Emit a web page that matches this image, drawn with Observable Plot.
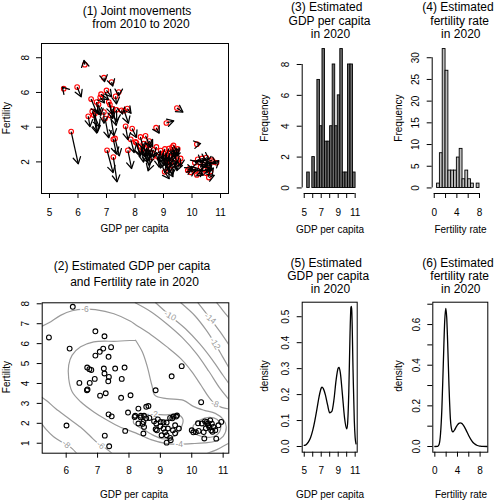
<!DOCTYPE html>
<html><head><meta charset="utf-8">
<script src="https://cdn.jsdelivr.net/npm/d3@7"></script>
<script src="https://cdn.jsdelivr.net/npm/@observablehq/plot@0.6"></script>
<style>
body{margin:0;background:#fff;}
#fig{position:relative;width:494px;height:500px;background:#fff;color:#000;overflow:hidden;font-family:"Liberation Sans",Arial,Helvetica,sans-serif}
</style></head><body><div id="fig"></div>
<script>
// ---------------- DATA ----------------
// Countries: observed 2010 and estimated 2020 (GDP per capita on log scale, fertility rate)
const gdp2010 = [6.24,5.50,5.97,5.76,6.91,7.18,7.43,7.00,6.81,6.46,6.65,7.08,7.32,6.50,6.60,6.36,6.91,7.14,7.35,7.53,7.73,7.67,7.90,7.24,7.02,7.24,7.75,6.78,6.72,7.12,7.62,6.55,6.95,7.22,7.30,7.85,8.05,9.47,9.10,8.74,10.17,10.86,
 8.19,8.37,8.50,8.02,8.30,8.45,8.25,8.40,8.55,8.60,8.75,8.90,9.00,9.05,9.19,9.25,9.35,9.40,9.30,9.45,9.05,9.20,9.35,9.40,9.50,9.10,9.25,9.30,9.55,9.04,9.20,9.60,8.20,8.35,8.80,9.12,9.35,9.50,8.65,9.15,
 9.85,9.95,10.05,10.20,10.17,10.35,10.40,10.50,10.60,10.55,10.65,10.45,10.25,10.59,10.45,10.30,10.10,10.70,10.50,9.90,10.75,10.28];
const fert2010 = [7.60,6.22,6.31,3.75,6.85,6.60,6.02,6.12,5.90,5.62,5.45,5.45,5.78,4.91,4.80,4.63,4.87,4.68,5.00,4.97,5.07,4.05,3.92,3.30,2.67,2.28,2.67,5.72,5.30,5.30,4.95,4.70,4.50,5.05,3.35,3.30,3.10,5.10,4.24,3.97,3.02,1.95,
 3.44,3.50,3.20,3.15,3.05,2.95,2.70,2.80,2.55,2.25,2.86,2.65,2.50,2.75,2.77,2.55,2.45,2.70,2.85,2.60,2.25,2.30,2.20,2.40,2.10,1.95,1.95,1.80,1.90,1.43,1.60,2.20,2.90,2.55,2.30,2.40,2.95,2.75,2.70,2.10,
 1.52,1.40,1.55,2.15,1.25,2.20,1.85,2.25,1.80,1.60,1.45,1.55,1.35,1.10,1.95,1.70,1.95,2.10,1.35,1.60,2.00,1.95];
const gdp2020 = [6.21,5.45,6.11,6.01,6.93,7.22,7.43,7.18,7.07,6.67,6.74,7.20,7.35,6.75,6.68,6.42,6.91,7.26,7.36,7.56,7.86,7.75,8.05,7.35,7.23,7.37,7.88,6.93,6.80,7.22,7.77,6.66,7.08,7.34,7.45,7.97,8.18,9.68,9.36,8.85,10.30,10.94,
 8.30,8.55,8.62,8.20,8.38,8.48,8.30,8.46,8.48,8.46,8.65,8.80,8.87,8.92,9.01,9.10,9.20,9.31,9.42,9.50,8.89,9.10,9.24,9.47,9.40,9.04,9.20,9.31,9.47,9.20,9.33,9.59,8.37,8.43,8.85,9.00,9.53,9.38,8.55,9.15,
 10.00,10.13,10.22,10.32,10.38,10.48,10.53,10.59,10.64,10.69,10.75,10.62,10.40,10.78,10.56,10.45,10.20,10.50,10.66,10.05,10.85,10.42];
const fert2020 = [7.85,6.31,5.75,1.89,6.62,6.37,5.82,5.75,5.59,4.80,4.72,4.75,5.34,4.03,3.70,4.03,4.23,3.51,4.33,4.75,4.80,3.28,3.41,2.45,1.38,0.85,1.62,5.40,4.68,4.50,4.23,3.66,3.39,4.11,2.35,2.54,2.32,4.87,4.36,3.66,3.06,2.07,
 2.74,2.83,2.87,2.38,2.38,2.38,1.99,2.07,1.82,1.49,2.27,2.10,1.99,2.20,2.07,2.05,2.04,2.27,2.34,2.34,1.65,1.74,1.74,1.90,1.65,1.40,1.40,1.27,1.50,1.03,1.15,1.74,2.30,1.97,1.70,1.85,2.39,2.25,2.25,1.55,
 1.65,1.56,1.62,1.99,1.56,2.07,1.90,2.15,1.98,1.82,1.65,1.65,1.24,1.23,1.80,1.75,2.00,1.98,1.58,1.55,1.90,2.10];

// Histograms (bin edges and counts)
const gdpBreaks = [5.35,5.65,5.95,6.25,6.55,6.85,7.15,7.45,7.75,8.05,8.35,8.65,8.95,9.25,9.55,9.85,10.15,10.45,10.75,11.05];
const gdpCounts = [1,0,2,1,7,4,9,3,3,4,8,4,6,9,1,1,8,8,1];
const fertBreaks = [0.5,1,1.5,2,2.5,3,3.5,4,4.5,5,5.5,6,6.5,7,7.5,8];
const fertCounts = [1,8,32,27,4,4,4,7,9,2,4,2,1,0,1];

// Estimated densities
const gdpDensX = [5.0,5.25,5.5,5.75,6.0,6.25,6.5,6.75,7.0,7.1,7.25,7.5,7.75,8.0,8.25,8.5,8.75,9.0,9.1,9.25,9.5,9.75,10.0,10.1,10.25,10.4,10.5,10.55,10.6,10.75,10.9,11.0,11.1];
const gdpDensY = [0.004,0.008,0.018,0.035,0.062,0.10,0.145,0.192,0.225,0.229,0.223,0.198,0.160,0.130,0.135,0.180,0.255,0.302,0.305,0.285,0.20,0.11,0.068,0.085,0.21,0.44,0.535,0.54,0.525,0.295,0.098,0.034,0.01];
const fertDensX = [0,0.5,0.75,1.0,1.25,1.5,1.75,1.93,2.1,2.25,2.5,2.75,3.0,3.15,3.25,3.5,3.75,4.0,4.25,4.5,4.75,5.0,5.5,6.0,6.5,7.0,7.5,8.0,8.5,9.2];
const fertDensY = [0,0.001,0.01,0.06,0.19,0.41,0.62,0.68,0.635,0.525,0.30,0.135,0.08,0.072,0.073,0.082,0.095,0.106,0.114,0.116,0.114,0.106,0.082,0.053,0.029,0.013,0.005,0.002,0.0005,0];

// Log-density contour lines of panel (2), in data units
const cM6top = [[5.236,6.88],[5.45,7.05],[5.82,7.42],[6.19,7.65],[6.6,7.73],[6.93,7.71],[7.52,7.5],[8.05,7.12],[8.21,6.95],[8.7,6.45],[9.2,5.85],[9.65,5.25],[10.0,4.6],[10.3,3.9],[10.55,3.3],[10.74,2.97],[10.95,2.8],[11.18,2.72]];
const cM6low = [[5.236,3.3],[5.39,3.12],[5.66,2.74],[6.03,2.3],[6.46,1.8],[6.77,1.35],[6.95,1.08],[7.1,0.9],[7.3,0.7],[7.45,0.5]];
const cM6br = [[10.5,0.5],[10.8,0.68],[11.0,0.85],[11.18,1.0]];
const cM8low = [[5.236,1.95],[5.36,1.7],[5.6,1.33],[5.82,1.1],[6.0,0.95],[6.19,0.73],[6.33,0.5]];
const cM8top = [[8.2,8.05],[8.7,7.6],[9.2,7.0],[9.7,6.3],[10.15,5.5],[10.55,4.6],[10.9,3.75],[11.18,3.2]];
const cM10 = [[8.85,8.05],[9.31,7.4],[9.8,6.75],[10.25,6.0],[10.65,5.2],[11.0,4.4],[11.18,4.0]];
const cM12 = [[9.65,8.05],[10.1,7.4],[10.45,6.7],[10.74,6.0],[10.98,5.35],[11.18,4.8]];
const cM14 = [[10.2,8.05],[10.59,7.26],[10.9,6.6],[11.18,5.95]];
const cM16 = [[10.8,8.05],[11.0,7.65],[11.18,7.3]];
const cM4 = [[8.21,6.17],[7.62,6.12],[6.88,6.09],[6.46,5.84],[6.19,5.42],[6.08,4.92],[6.08,4.25],[6.19,3.58],[6.46,3.08],[6.88,2.57],[7.31,2.15],[7.73,1.8],[8.21,1.52],[8.7,1.18],[9.2,0.98],[9.6,0.95],[10.0,0.98],[10.4,1.02],[10.75,1.1],[11.0,1.35],[11.1,1.8],[11.0,2.2],[10.75,2.5],[10.4,2.65],[10.05,2.85],[9.74,3.15],[9.2,3.24],[8.83,3.4],[8.73,3.91],[8.57,4.92],[8.42,5.6],[8.21,6.17]];
const cM2a = [[8.15,2.2],[8.4,2.42],[8.8,2.45],[9.2,2.42],[9.55,2.45],[9.72,2.2],[9.65,1.75],[9.45,1.35],[9.1,1.22],[8.75,1.42],[8.4,1.75],[8.15,2.0],[8.15,2.2]];
const cM2b = [[10.05,1.9],[10.25,2.15],[10.55,2.3],[10.8,2.2],[10.92,1.9],[10.85,1.5],[10.6,1.3],[10.3,1.35],[10.05,1.55],[10.05,1.9]];
const contourPaths = [cM6top,cM6low,cM6br,cM8low,cM8top,cM10,cM12,cM14,cM16,cM4,cM2a,cM2b];
const contourLabelText = ["-6","-10","-14","-12","-8","-2","-4","-6","-8"];
const contourLabelX = [6.6,9.31,10.59,10.74,10.74,8.8,9.6,7.1,6.0];
const contourLabelY = [7.73,7.4,7.26,6.0,2.97,2.45,0.95,0.9,0.95];
const contourLabelAngle = [0,30,40,58,18,0,0,40,42];

// Axis ticks
const p1XTicks = [5,6,7,8,9,10,11], p1YTicks = [2,4,6,8];
const p2XTicks = [6,7,8,9,10,11], p2YTicks = [1,2,3,4,5,6,7,8];
const gdpAxisTicks = [5,6,7,8,9,10,11], gdpAxisLabels = [5,7,9,11];
const fertAxisTicks = [0,2,4,6,8], fertAxisLabels = [0,4,8];
const p3YTicks = [0,2,4,6,8];
const p4YTicks = [0,5,10,15,20,25,30];
const p5YTicks = [0,0.1,0.2,0.3,0.4,0.5];
const p6YTicks = [0,0.1,0.2,0.3,0.4,0.5,0.6,0.7], p6YLabels = [0,0.2,0.4,0.6];

// ---------------- LAYOUT ----------------
const W = 494, H = 500;
const fig = document.getElementById("fig");
const font = '"Liberation Sans", Arial, Helvetica, sans-serif';

function panel(box, xDomain, yDomain, marks) {
  const svg = Plot.plot({
    width: W, height: H,
    marginLeft: box.l, marginRight: W - box.r, marginTop: box.t, marginBottom: H - box.b,
    x: {domain: xDomain}, y: {domain: yDomain},
    style: {background: "transparent", fontFamily: font, fontSize: "10px", color: "black", overflow: "visible"},
    marks
  });
  svg.style.position = "absolute"; svg.style.left = "0px"; svg.style.top = "0px";
  fig.appendChild(svg);
}
function scaleFns(box, xDomain, yDomain) {
  let fx, fy;
  try {
    const sx = Plot.scale({x: {domain: xDomain, range: [box.l, box.r]}});
    const sy = Plot.scale({y: {domain: yDomain, range: [box.b, box.t]}});
    if (sx.apply && sy.apply) { fx = v => sx.apply(v); fy = v => sy.apply(v); }
  } catch (e) {}
  if (!fx) { fx = d3.scaleLinear(xDomain, [box.l, box.r]); fy = d3.scaleLinear(yDomain, [box.b, box.t]); }
  return [fx, fy];
}
function axisMarks(xTicks, xLabels, xFmt, xDy, yTicks, yLabels, yFmt) {
  return [
    Plot.axisX({ticks: xTicks, tickSize: 5, tickFormat: () => "", label: null}),
    Plot.axisY({ticks: yTicks, tickSize: 5, tickFormat: () => "", label: null}),
    Plot.text(xLabels, {x: d => d, text: xFmt, frameAnchor: "bottom", dy: xDy, lineAnchor: "middle", textAnchor: "middle", fontSize: 10}),
    Plot.text(yLabels, {y: d => d, text: yFmt, frameAnchor: "left", dx: -16, rotate: -90, lineAnchor: "middle", textAnchor: "middle", fontSize: 10})
  ];
}
function txt(s, cx, cy, size, rot) {
  const d = document.createElement("div");
  d.textContent = s;
  Object.assign(d.style, {position: "absolute", left: (cx - 120) + "px", top: (cy - size * 0.6) + "px", width: "240px",
    textAlign: "center", fontSize: size + "px", lineHeight: (size * 1.2) + "px", whiteSpace: "nowrap", fontFamily: font});
  if (rot) d.style.transform = `rotate(${rot}deg)`;
  fig.appendChild(d);
}
const int = d => String(d);
const f1 = d3.format(".1f");
// open arrow head (R style), drawn at the tip pointing along the arrow
const headShape = {draw(context, l) { context.moveTo(-l * 0.5, l * 0.866); context.lineTo(0, 0); context.lineTo(l * 0.5, l * 0.866); }};

const countries = gdp2010.map((d, i) => ({x1: d, y1: fert2010[i], x2: gdp2020[i], y2: fert2020[i]}));
const gdpBins = gdpCounts.map((c, i) => ({x1: gdpBreaks[i], x2: gdpBreaks[i + 1], n: c}));
const fertBins = fertCounts.map((c, i) => ({x1: fertBreaks[i], x2: fertBreaks[i + 1], n: c}));
const gdpDens = gdpDensX.map((x, i) => ({x, y: gdpDensY[i]}));
const fertDens = fertDensX.map((x, i) => ({x, y: fertDensY[i]}));
const contourRows = contourPaths.flatMap((p, id) => p.map(([x, y]) => ({x, y, id})));
const contourLabels = contourLabelText.map((t, i) => ({t, x: contourLabelX[i], y: contourLabelY[i], a: contourLabelAngle[i]}));

// (1) Joint movements
const box1 = {l: 41, r: 228, t: 43, b: 193}, x1D = [4.72, 11.28], y1D = [0.18, 8.82];
const [sx1, sy1] = scaleFns(box1, x1D, y1D);
const heads = countries.map(d => ({x: d.x2, y: d.y2,
  a: Math.atan2(sx1(d.x2) - sx1(d.x1), -(sy1(d.y2) - sy1(d.y1))) * 180 / Math.PI}));
panel(box1, x1D, y1D, [
  Plot.dot(countries, {x: "x1", y: "y1", r: 2.3, stroke: "red", strokeWidth: 1.1}),
  Plot.link(countries, {x1: "x1", y1: "y1", x2: "x2", y2: "y2", stroke: "black", strokeWidth: 1.25}),
  Plot.vector(heads, {x: "x", y: "y", rotate: "a", length: 7.5, anchor: "start", shape: headShape, stroke: "black", strokeWidth: 1.25}),
  Plot.frame({stroke: "black"}),
  ...axisMarks(p1XTicks, p1XTicks, int, 19, p1YTicks, p1YTicks, int)
]);

// (2) Estimated 2020 with contours
panel({l: 41.7, r: 228.3, t: 302.3, b: 452.7}, [5.236, 11.18], [0.5, 8.05], [
  Plot.line(contourRows, {x: "x", y: "y", z: "id", curve: "catmull-rom", stroke: "#9a9a9a", strokeWidth: 1.2, clip: true}),
  ...contourLabels.map(l => Plot.text([l], {x: "x", y: "y", text: "t", rotate: l.a, fill: "#9a9a9a", stroke: "white", strokeWidth: 3, paintOrder: "stroke", fontSize: 8.5})),
  Plot.dot(countries, {x: "x2", y: "y2", r: 2.4, stroke: "black", strokeWidth: 1.1}),
  Plot.frame({stroke: "black"}),
  ...axisMarks(p2XTicks, p2XTicks, int, 17.5, p2YTicks, p2YTicks, int)
]);

// (3) Histogram GDP
const p3X = [4.76, 11.24], p3Y = [-0.36, 9.36];
panel({l: 301.7, r: 356.7, t: 43, b: 193}, p3X, p3Y, [
  Plot.rect(gdpBins, {x1: "x1", x2: "x2", y1: 0, y2: "n", fill: "#6a6a6a", stroke: "black", strokeWidth: 0.9}),
  Plot.ruleY([p3Y[0]], {x1: gdpAxisTicks[0], x2: gdpAxisTicks[gdpAxisTicks.length - 1], stroke: "black"}),
  Plot.ruleX([p3X[0]], {y1: p3YTicks[0], y2: p3YTicks[p3YTicks.length - 1], stroke: "black"}),
  ...axisMarks(gdpAxisTicks, gdpAxisLabels, int, 19, p3YTicks, p3YTicks, int)
]);

// (4) Histogram fertility
const p4X = [-0.36, 9.36], p4Y = [-1.28, 33.28];
panel({l: 431.7, r: 486.7, t: 43, b: 193}, p4X, p4Y, [
  Plot.rect(fertBins, {x1: "x1", x2: "x2", y1: 0, y2: "n", fill: "#bebebe", stroke: "black", strokeWidth: 0.9}),
  Plot.ruleY([p4Y[0]], {x1: fertAxisTicks[0], x2: fertAxisTicks[fertAxisTicks.length - 1], stroke: "black"}),
  Plot.ruleX([p4X[0]], {y1: p4YTicks[0], y2: p4YTicks[p4YTicks.length - 1], stroke: "black"}),
  ...axisMarks(fertAxisTicks, fertAxisLabels, int, 19, p4YTicks, p4YTicks, int)
]);

// (5) Density GDP
panel({l: 301.7, r: 356.7, t: 301.7, b: 451.7}, [4.76, 11.24], [-0.022, 0.556], [
  Plot.line(gdpDens, {x: "x", y: "y", curve: "monotone-x", stroke: "black", strokeWidth: 1.3}),
  Plot.frame({stroke: "black"}),
  ...axisMarks(gdpAxisTicks, gdpAxisLabels, int, 19, p5YTicks, p5YTicks, f1)
]);

// (6) Density fertility
panel({l: 432.3, r: 487.3, t: 301.7, b: 451.7}, [-0.36, 9.36], [-0.028, 0.71], [
  Plot.line(fertDens, {x: "x", y: "y", curve: "monotone-x", stroke: "black", strokeWidth: 1.3}),
  Plot.frame({stroke: "black"}),
  ...axisMarks(fertAxisTicks, fertAxisLabels, int, 19, p6YTicks, p6YLabels, f1)
]);

// Titles
txt("(1) Joint movements", 137, 11, 12); txt("from 2010 to 2020", 141, 24.3, 12);
txt("(2) Estimated GDP per capita", 132, 266, 12); txt("and Fertility rate in 2020", 134.5, 281.7, 12);
txt("(3) Estimated", 326.7, 7.5, 12); txt("GDP per capita", 329.5, 20.8, 12); txt("in 2020", 330.5, 34, 12);
txt("(4) Estimated", 458, 7.5, 12); txt("fertility rate", 459.7, 20.8, 12); txt("in 2020", 460.8, 34, 12);
txt("(5) Estimated", 326.2, 262.7, 12); txt("GDP per capita", 328.2, 276, 12); txt("in 2020", 330.5, 289.3, 12);
txt("(6) Estimated", 458, 262.7, 12); txt("fertility rate", 459.7, 276, 12); txt("in 2020", 460.8, 289.3, 12);
// Axis titles
txt("GDP per capita", 134.5, 229, 10); txt("Fertility", 6.5, 118, 10, -90);
txt("GDP per capita", 134, 495, 10); txt("Fertility", 6.5, 377, 10, -90);
txt("GDP per capita", 330, 230, 10); txt("Frequency", 265, 118, 10, -90);
txt("Fertility rate", 460.5, 230, 10); txt("Frequency", 398.5, 118, 10, -90);
txt("GDP per capita", 330, 495, 10); txt("density", 265, 376, 10, -90);
txt("Fertility rate", 461, 495, 10); txt("density", 399, 376, 10, -90);
</script></body></html>
